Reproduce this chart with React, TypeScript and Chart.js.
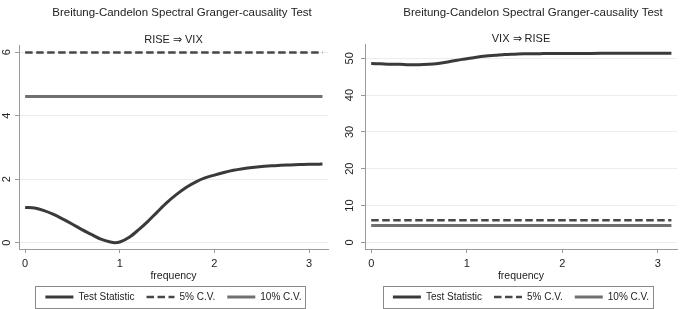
import React, { useEffect, useRef } from "react";
import { Chart, registerables } from "chart.js";

Chart.register(...registerables);

// ---------- data ----------
const FREQ = [0, 0.1, 0.2, 0.3, 0.4, 0.5, 0.6, 0.7, 0.8, 0.9, 0.95, 1.0, 1.1, 1.2, 1.3, 1.4, 1.5, 1.6, 1.7, 1.8, 1.9, 2.0, 2.1, 2.2, 2.3, 2.4, 2.5, 2.6, 2.7, 2.8, 2.9, 3.0, 3.1, 3.1416];
const LEFT_STAT = [1.11, 1.09, 1.01, 0.89, 0.74, 0.58, 0.41, 0.26, 0.11, 0.02, 0.0, 0.02, 0.17, 0.41, 0.68, 0.98, 1.27, 1.52, 1.74, 1.91, 2.04, 2.13, 2.21, 2.28, 2.33, 2.37, 2.4, 2.42, 2.44, 2.45, 2.46, 2.47, 2.47, 2.48];
const RIGHT_STAT = [48.6, 48.5, 48.4, 48.35, 48.25, 48.25, 48.35, 48.6, 49.0, 49.45, 49.7, 49.9, 50.3, 50.6, 50.8, 51.0, 51.1, 51.2, 51.25, 51.27, 51.29, 51.3, 51.31, 51.32, 51.33, 51.34, 51.35, 51.36, 51.37, 51.38, 51.39, 51.4, 51.4, 51.4];
const CV_FREQ = [0, 3.1416];
const CV5 = [5.99, 5.99];
const CV10 = [4.61, 4.61];
const X_TICKS = [0, 1, 2, 3];
const LEFT_Y_TICKS = [0, 2, 4, 6];
const RIGHT_Y_TICKS = [0, 10, 20, 30, 40, 50];
const TITLE = "Breitung-Candelon Spectral Granger-causality Test";
const LEFT_SUBTITLE = "RISE \u21D2 VIX";
const RIGHT_SUBTITLE = "VIX \u21D2 RISE";
const SERIES_LABELS = ["Test Statistic", "5% C.V.", "10% C.V."];
const X_TITLE = "frequency";

const FONT = "'Liberation Sans', Arial, sans-serif";
const CANVAS_H = 312;

const legendBorder = {
  id: "legendBorder",
  afterDraw(chart: any) {
    const lg = chart.legend;
    if (!lg || !lg.legendHitBoxes || !lg.legendHitBoxes.length) return;
    const hb = lg.legendHitBoxes;
    const l = Math.min(...hb.map((h: any) => h.left)) - 10;
    const r = Math.max(...hb.map((h: any) => h.left + h.width)) + 4;
    const cy = hb[0].top + hb[0].height / 2;
    const ctx = chart.ctx;
    ctx.save();
    ctx.strokeStyle = "#8a8a8a";
    ctx.lineWidth = 1;
    ctx.setLineDash([]);
    ctx.strokeRect(Math.round(l) + 0.5, Math.round(cy - 11) + 0.5, Math.round(r - l), 22);
    ctx.restore();
  },
};

type PanelCfg = {
  width: number;
  subtitle: string;
  stat: number[];
  yTicks: number[];
  yMin: number;
  yMax: number;
  yWidth: number;
  rightGap: number;
  titlePadBottom: number;
};

function buildConfig(p: PanelCfg): any {
  const pts = (xs: number[], ys: number[]) => xs.map((x, i) => ({ x, y: ys[i] }));
  return {
    type: "line",
    data: {
      datasets: [
        {
          label: SERIES_LABELS[0],
          data: pts(FREQ, p.stat),
          borderColor: "#3a3a3a",
          borderWidth: 3,
          pointRadius: 0,
          cubicInterpolationMode: "monotone",
          fill: false,
        },
        {
          label: SERIES_LABELS[1],
          data: pts(CV_FREQ, CV5),
          borderColor: "#474747",
          borderWidth: 2.5,
          borderDash: [7.5, 3.5],
          pointRadius: 0,
          fill: false,
        },
        {
          label: SERIES_LABELS[2],
          data: pts(CV_FREQ, CV10),
          borderColor: "#707070",
          borderWidth: 3,
          pointRadius: 0,
          fill: false,
        },
      ],
    },
    options: {
      responsive: false,
      animation: false,
      devicePixelRatio: 1,
      layout: { padding: { left: 0, right: 0, top: 0, bottom: 0 } },
      scales: {
        x: {
          type: "linear",
          min: -0.065,
          max: 3.2,
          afterBuildTicks: (s: any) => {
            s.ticks = X_TICKS.map((v) => ({ value: v }));
          },
          afterFit: (s: any) => {
            s.height = 31;
          },
          grid: { drawOnChartArea: false, drawTicks: true, tickLength: 4, tickColor: "#9a9a9a" },
          border: { color: "#9a9a9a", width: 1 },
          ticks: { padding: 4, color: "#222", font: { family: FONT, size: 11 }, maxRotation: 0 },
          title: {
            display: true,
            text: X_TITLE,
            color: "#222",
            font: { family: FONT, size: 10.5 },
            padding: { top: 0, bottom: -2 },
          },
        },
        y: {
          type: "linear",
          min: p.yMin,
          max: p.yMax,
          afterBuildTicks: (s: any) => {
            s.ticks = p.yTicks.map((v) => ({ value: v }));
          },
          afterFit: (s: any) => {
            s.width = p.yWidth;
          },
          grid: { color: "#ececec", lineWidth: 1, drawTicks: true, tickLength: 4, tickColor: "#9a9a9a" },
          border: { color: "#9a9a9a", width: 1 },
          ticks: {
            padding: 5,
            color: "#222",
            minRotation: 90,
            maxRotation: 90,
            crossAlign: "center",
            font: { family: FONT, size: 11 },
          },
        },
        // empty right-hand margin box so the full-width title sits where the reference has it
        gap: {
          axis: "y",
          position: "right",
          display: true,
          afterFit: (s: any) => {
            s.width = p.rightGap;
          },
          grid: { display: false, drawTicks: false },
          border: { display: false },
          ticks: { display: false },
        },
      },
      plugins: {
        title: {
          display: true,
          text: TITLE,
          color: "#222",
          font: { family: FONT, size: 11.5, weight: "normal" },
          padding: { top: 5.5, bottom: p.titlePadBottom },
        },
        subtitle: {
          display: true,
          text: p.subtitle,
          fullSize: false,
          color: "#222",
          font: { family: FONT, size: 11, weight: "normal" },
          padding: { top: 0, bottom: -1 },
        },
        legend: {
          display: true,
          position: "bottom",
          fullSize: false,
          labels: {
            usePointStyle: true,
            pointStyle: "line",
            pointStyleWidth: 28,
            boxHeight: 10,
            padding: 12,
            color: "#222",
            font: { family: FONT, size: 10 },
            generateLabels: (chart: any) => {
              const base = Chart.defaults.plugins.legend.labels.generateLabels(chart);
              return base.map((item: any) => {
                const ds = chart.data.datasets[item.datasetIndex];
                return {
                  ...item,
                  pointStyle: "line",
                  lineDash: ds.borderDash || [],
                  lineWidth: ds.borderWidth,
                  strokeStyle: ds.borderColor,
                  fillStyle: ds.borderColor,
                };
              });
            },
          },
        },
        tooltip: { enabled: false },
      },
    },
    plugins: [legendBorder],
  };
}

function Panel(props: { cfg: PanelCfg; left: number }) {
  const ref = useRef<HTMLCanvasElement | null>(null);
  useEffect(() => {
    if (!ref.current) return;
    const chart = new Chart(ref.current, buildConfig(props.cfg));
    return () => chart.destroy();
  }, []);
  return (
    <canvas
      ref={ref}
      width={props.cfg.width}
      height={CANVAS_H}
      style={{ position: "absolute", left: props.left, top: 0, width: props.cfg.width, height: CANVAS_H }}
    />
  );
}

const LEFT_PANEL: PanelCfg = {
  width: 364,
  subtitle: LEFT_SUBTITLE,
  stat: LEFT_STAT,
  yTicks: LEFT_Y_TICKS,
  yMin: -0.2,
  yMax: 6.22,
  yWidth: 19,
  rightGap: 36,
  titlePadBottom: 13.8,
};

const RIGHT_PANEL: PanelCfg = {
  width: 380,
  subtitle: RIGHT_SUBTITLE,
  stat: RIGHT_STAT,
  yTicks: RIGHT_Y_TICKS,
  yMin: -1.8,
  yMax: 53.8,
  yWidth: 22,
  rightGap: 46,
  titlePadBottom: 12.8,
};

export default function App() {
  return (
    <div
      style={{
        position: "fixed",
        left: 0,
        top: 0,
        width: 685,
        height: 309,
        overflow: "hidden",
        background: "#ffffff",
      }}
    >
      <Panel cfg={LEFT_PANEL} left={0} />
      <Panel cfg={RIGHT_PANEL} left={343} />
    </div>
  );
}
